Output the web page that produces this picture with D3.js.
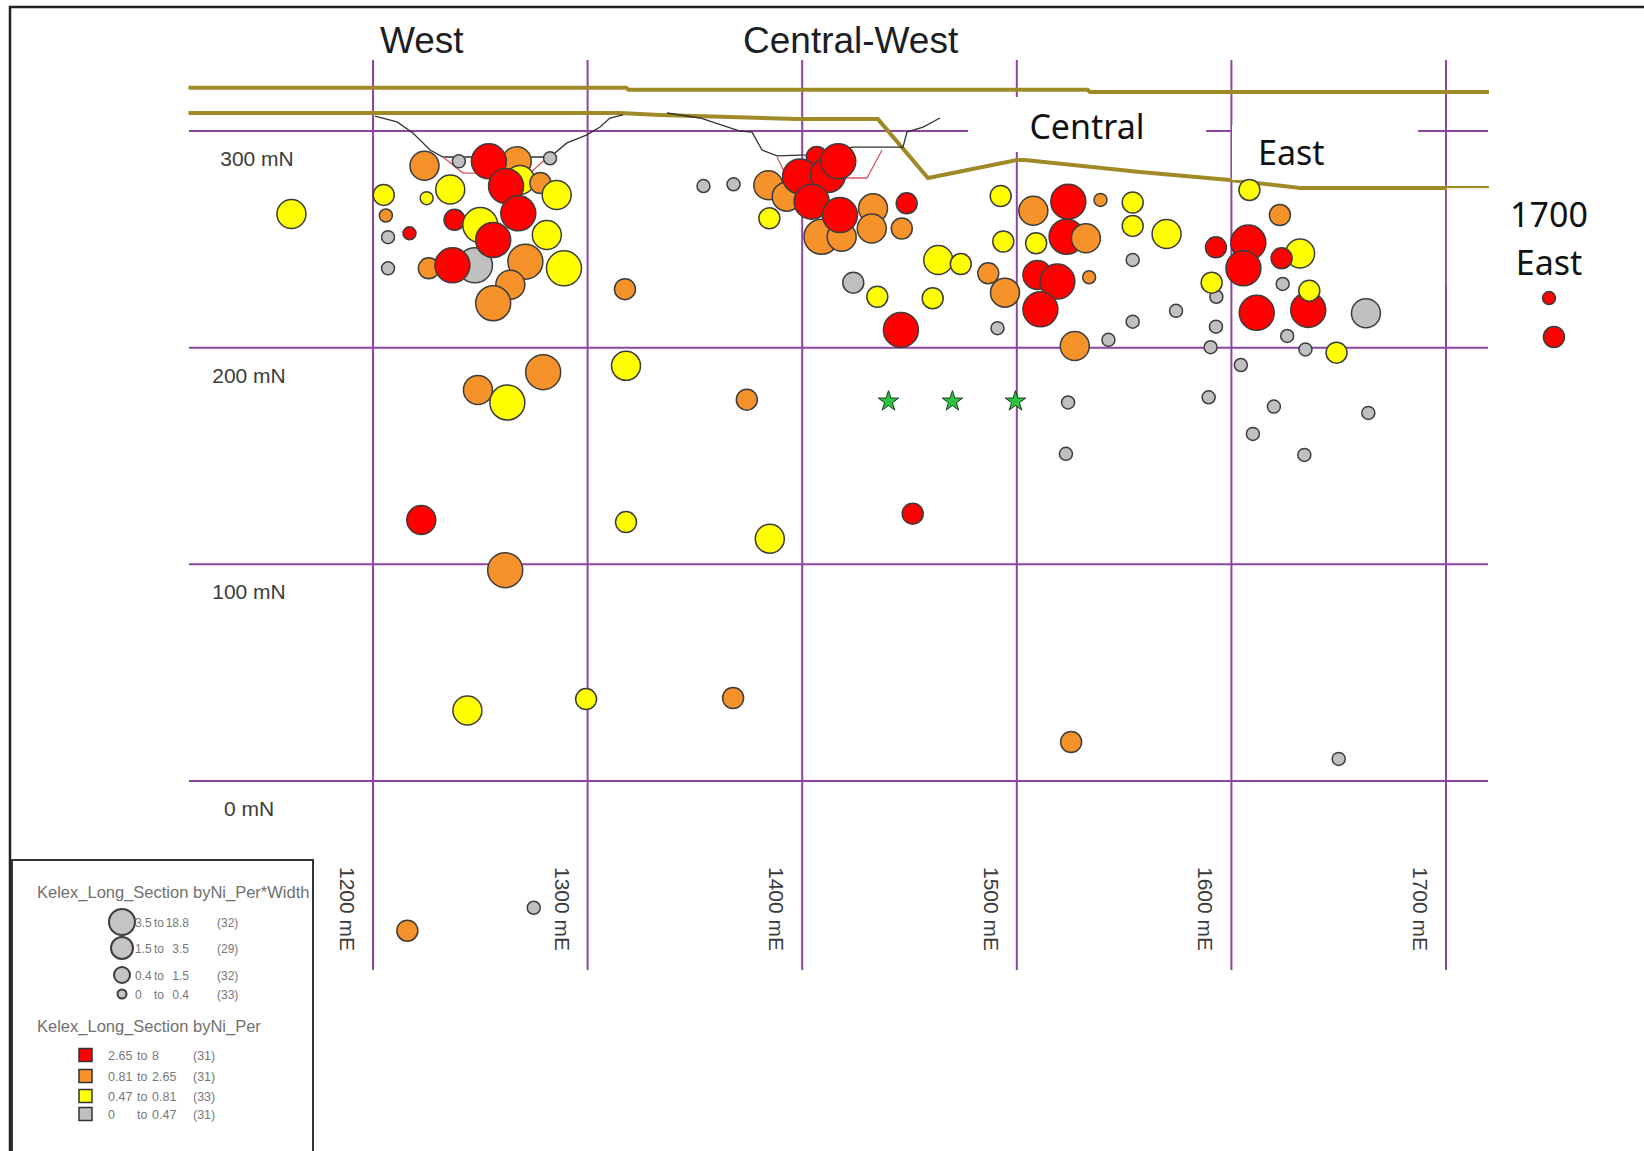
<!DOCTYPE html>
<html>
<head>
<meta charset="utf-8">
<script src="https://cdn.jsdelivr.net/npm/d3@7/dist/d3.min.js"></script>
<style>
body { margin: 0; background: #fff; }
svg { display: block; }
</style>
</head>
<body>
<div id="chart"></div>
<script>
// grid ticks (metres east / metres north)
let xTicks = [1200, 1300, 1400, 1500, 1600, 1700];
let yTicks = [0, 100, 200, 300];

// drill intercepts: [mE, mN, Ni_Per*Width class (0..3), Ni_Per class (0 grey,1 yellow,2 orange,3 red)]
let westHoles = [
  [1162, 261.7, 2, 1], [1224, 284, 2, 2], [1240, 286, 0, 0], [1282.5, 287.4, 0, 0],
  [1267, 286, 2, 2], [1254, 286, 3, 3], [1205, 270.5, 1, 1], [1236, 273, 2, 1],
  [1225, 269, 0, 1], [1268.5, 277.4, 2, 1], [1278, 276, 1, 2], [1262, 274.6, 3, 3],
  [1285.6, 270.5, 2, 1], [1206, 261, 0, 2], [1238, 259, 1, 3], [1250, 256.6, 3, 1],
  [1267.7, 262, 3, 3], [1207, 251, 0, 0], [1217, 252.8, 0, 3], [1281, 252, 2, 1],
  [1207, 236.6, 0, 0], [1247.5, 238, 3, 0], [1256, 249.7, 3, 3], [1226, 236.6, 1, 2],
  [1237, 238, 3, 3], [1271, 239.7, 3, 2], [1289, 236.6, 3, 1], [1264, 229, 2, 2],
  [1256, 220.5, 3, 2], [1317.4, 227, 1, 2]
];
let centralWestHoles = [
  [1354, 274.6, 0, 0], [1368, 275.4, 0, 0], [1384.2, 275, 2, 2], [1392.8, 269.7, 2, 2],
  [1384.7, 259.7, 1, 1], [1409, 251.2, 3, 2], [1418.4, 251.2, 2, 2], [1433, 264.3, 2, 2],
  [1432.4, 255, 2, 2], [1446.4, 255, 1, 2], [1406.8, 288, 1, 3], [1399, 279, 3, 3],
  [1412, 279.7, 3, 3], [1404.4, 267.4, 3, 3], [1417.6, 261.2, 3, 3], [1416.8, 286, 3, 3],
  [1448.7, 266.6, 1, 3], [1423.8, 230, 1, 0], [1435, 223.5, 1, 1], [1463.4, 240.5, 2, 1],
  [1473.9, 238.6, 1, 1], [1460.8, 222.8, 1, 1], [1446, 208.2, 3, 3]
];
let centralHoles = [
  [1486.7, 234.3, 1, 2], [1494.5, 225.4, 2, 2], [1492.5, 270, 1, 1], [1493.7, 249, 1, 1],
  [1491, 209, 0, 0], [1507.7, 263.2, 2, 2], [1524, 267.4, 3, 3], [1539, 268.2, 0, 2],
  [1554, 267, 1, 1], [1554, 256.2, 1, 1], [1569.8, 252.5, 2, 1], [1509, 248.2, 1, 1],
  [1523.2, 251.2, 3, 3], [1532.2, 250.5, 2, 2], [1509.6, 233.5, 2, 3], [1518.9, 230.5, 3, 3],
  [1533.7, 232.5, 0, 2], [1511, 217.7, 3, 3], [1527, 200.8, 2, 2], [1542.7, 203.6, 0, 0],
  [1554, 240.5, 0, 0], [1554, 212, 0, 0], [1574.2, 217, 0, 0]
];
let eastHoles = [
  [1593, 223.5, 0, 0], [1592.8, 246.3, 1, 3], [1590.8, 230, 1, 1], [1592.8, 209.7, 0, 0],
  [1590.3, 200.2, 0, 0], [1604.4, 192, 0, 0], [1608.4, 272.8, 1, 1], [1622.6, 261.2, 1, 2],
  [1607.9, 248.5, 3, 3], [1605.6, 236.6, 3, 3], [1632, 243.5, 2, 1], [1623.4, 241.3, 1, 3],
  [1623.9, 229.4, 0, 0], [1611.8, 216.1, 3, 3], [1635.8, 217.4, 3, 3], [1636.3, 226.3, 1, 1],
  [1626, 205.4, 0, 0], [1634.5, 199.2, 0, 0], [1649, 197.7, 1, 1], [1662.7, 215.9, 2, 0]
];
let deepHoles = [
  [1248.9, 180.5, 2, 2], [1279.3, 188.7, 3, 2], [1262.6, 174.7, 3, 1], [1317.9, 191.6, 2, 1],
  [1374.2, 176, 1, 2], [1222.5, 120.5, 2, 3], [1317.9, 119.5, 1, 1], [1384.9, 111.8, 2, 1],
  [1261.6, 97.3, 3, 2], [1451.5, 123.4, 1, 3], [1244, 32.5, 2, 1], [1299.3, 37.8, 1, 1],
  [1367.8, 38.3, 1, 2], [1525.3, 18, 1, 2], [1650, 10.2, 0, 0], [1216, -69.1, 1, 2],
  [1274.9, -58.5, 0, 0], [1523.9, 174.7, 0, 0], [1522.9, 151, 0, 0], [1589.4, 177.1, 0, 0],
  [1610, 160.2, 0, 0], [1619.8, 172.8, 0, 0], [1634, 150.5, 0, 0], [1663.8, 169.9, 0, 0]
];
let east1700Holes = [[1748, 222.9, 0, 3], [1750.3, 204.9, 1, 3]];
let targetStars = [[1440.2, 175.2], [1470, 175.2], [1499.4, 175.2]];

// surface / pit traces [mE, mN]
let topSurface = [[1114, 320], [1318, 320], [1319, 319], [1533, 319], [1534, 318], [1720, 318]];
let baseSurface = [[1114, 308.3], [1315, 308.3], [1333.7, 307.4], [1397.6, 305.5], [1435.3, 305.5],
  [1458.6, 278.3], [1500.1, 286.6], [1503.8, 286.6], [1557.4, 281.1], [1599.3, 277.4],
  [1632, 273.7], [1720, 273.7]];
let westPit = [[1200.9, 306.9], [1211.2, 304.2], [1218.6, 299.1], [1226.6, 291.2], [1232.6, 288],
  [1282.5, 288], [1290.4, 294.5], [1299.7, 298.2], [1305.8, 301.8], [1310.4, 306], [1316.5, 307.4]];
let westPitFloor = [[1232.6, 288], [1241.9, 280.6], [1273.2, 280.6], [1281.5, 288]];
let cwPit = [[1337, 308.3], [1352.4, 306], [1371, 300], [1376.6, 299.5], [1381.3, 291.2],
  [1388.3, 288.5], [1402, 289], [1423.7, 292.6], [1447, 292.6], [1448.8, 299.5], [1456.3, 301.8], [1464.2, 306]];
let cwPitFloor = [[1388.3, 288], [1393, 278.3], [1430.2, 278.3], [1437.2, 291.2]];

let zoneTitles = ["West", "Central-West", "Central", "East", "1700", "East"];

let sizeLegend = [
  {cls: 3, from: "3.5", upper: "18.8", n: "(32)"},
  {cls: 2, from: "1.5", upper: "3.5", n: "(29)"},
  {cls: 1, from: "0.4", upper: "1.5", n: "(32)"},
  {cls: 0, from: "0", upper: "0.4", n: "(33)"}
];
let gradeLegend = [
  {cls: 3, from: "2.65", upper: "8", n: "(31)"},
  {cls: 2, from: "0.81", upper: "2.65", n: "(31)"},
  {cls: 1, from: "0.47", upper: "0.81", n: "(33)"},
  {cls: 0, from: "0", upper: "0.47", n: "(31)"}
];

let W = 1644, H = 1151;
let svg = d3.select("#chart").append("svg").attr("width", W).attr("height", H);
svg.append("rect").attr("width", W).attr("height", H).attr("fill", "#fff");

let x = d3.scaleLinear().domain([1200, 1700]).range([373, 1446]);
let y = d3.scaleLinear().domain([0, 300]).range([781, 131]);
let radius = d3.scaleOrdinal().domain([0, 1, 2, 3]).range([6.5, 10.5, 14.5, 17.5]);
let legendRadius = d3.scaleOrdinal().domain([0, 1, 2, 3]).range([4.5, 8, 11, 13]);
let gradeColor = d3.scaleOrdinal().domain([0, 1, 2, 3]).range(["#c0c0c0", "#ffff00", "#f5922a", "#ff0000"]);

let purple = "#8e44a4", khaki = "#9f8a27";

// outer frame
svg.append("rect")
  .attr("x", 10).attr("y", 7).attr("width", W + 20).attr("height", H + 20)
  .attr("fill", "none").attr("stroke", "#222").attr("stroke-width", 2.5);

// grid
let grid = svg.append("g");
grid.selectAll(".hline").data(yTicks).enter().append("line")
  .attr("x1", x(1200) - 184).attr("x2", x(1700) + 42)
  .attr("y1", d => y(d)).attr("y2", d => y(d))
  .attr("stroke", purple).attr("stroke-width", 2);
grid.selectAll(".vline").data(xTicks).enter().append("line")
  .attr("x1", d => x(d)).attr("x2", d => x(d))
  .attr("y1", 60).attr("y2", 970)
  .attr("stroke", purple).attr("stroke-width", 2);

// surfaces and pit shells
let line = d3.line().x(d => x(d[0])).y(d => y(d[1]));
svg.append("path").datum(topSurface).attr("d", line)
  .attr("fill", "none").attr("stroke", khaki).attr("stroke-width", 4);
svg.append("path").datum(baseSurface).attr("d", line)
  .attr("fill", "none").attr("stroke", khaki).attr("stroke-width", 4);
[westPit, cwPit].forEach(p => {
  svg.append("path").datum(p).attr("d", line)
    .attr("fill", "none").attr("stroke", "#333").attr("stroke-width", 1.3);
});
[westPitFloor, cwPitFloor].forEach(p => {
  svg.append("path").datum(p).attr("d", line)
    .attr("fill", "none").attr("stroke", "#d9585f").attr("stroke-width", 1.3);
});

// white label boxes
let boxes = [
  [1477.3, 1588.2, 315.7, 290.3, 1],
  [1600.3, 1687, 302.8, 277.4, 1],
  [1700.4, 1771.8, 273.7, 228.9, 0.88]
];
svg.selectAll(".box").data(boxes).enter().append("rect")
  .attr("x", d => x(d[0])).attr("width", d => x(d[1]) - x(d[0]))
  .attr("y", d => y(d[2])).attr("height", d => y(d[3]) - y(d[2]))
  .attr("fill", "#fff").attr("fill-opacity", d => d[4]);

// zone titles
let arialTitles = svg.append("g").attr("font-family", "Liberation Sans, Arial, sans-serif")
  .attr("font-size", 37).attr("fill", "#1d1d24");
arialTitles.append("text").attr("x", 380).attr("y", 53).text(zoneTitles[0]);
arialTitles.append("text").attr("x", 743).attr("y", 53).text(zoneTitles[1]);
let calTitles = svg.append("g").attr("font-family", "Noto Sans, sans-serif")
  .attr("font-size", 34).attr("fill", "#111");
calTitles.append("text").attr("x", x(1532.7)).attr("y", 139).attr("text-anchor", "middle").text(zoneTitles[2]);
calTitles.append("text").attr("x", x(1612.4)).attr("y", 165).text(zoneTitles[3]);
calTitles.append("text").attr("x", x(1748)).attr("y", 227).attr("text-anchor", "middle").text(zoneTitles[4]);
calTitles.append("text").attr("x", x(1748)).attr("y", 275).attr("text-anchor", "middle").text(zoneTitles[5]);

// axis labels
let axisText = svg.append("g").attr("font-family", "Liberation Sans, Arial, sans-serif")
  .attr("font-size", 21).attr("fill", "#3c3c3c");
axisText.selectAll(".ylab").data(yTicks).enter().append("text")
  .attr("x", d => d === 300 ? 257 : 249).attr("y", d => y(d) + 35).attr("text-anchor", "middle")
  .text(d => d + " mN");
axisText.selectAll(".xlab").data(xTicks).enter().append("text")
  .attr("transform", d => "translate(" + (x(d) - 33) + ",867) rotate(90)")
  .text(d => d + " mE");

// intercepts
let allHoles = [].concat(westHoles, centralWestHoles, centralHoles, eastHoles, deepHoles, east1700Holes);
svg.append("g").selectAll("circle").data(allHoles).enter().append("circle")
  .attr("cx", d => x(d[0])).attr("cy", d => y(d[1]))
  .attr("r", d => radius(d[2]))
  .attr("fill", d => gradeColor(d[3]))
  .attr("stroke", "#3d3d3d").attr("stroke-width", 1.5);

svg.append("g").selectAll("path").data(targetStars).enter().append("path")
  .attr("d", d3.symbol().type(d3.symbolStar).size(130))
  .attr("transform", d => "translate(" + x(d[0]) + "," + y(d[1]) + ")")
  .attr("fill", "#2dc23f").attr("stroke", "#1d3d1d").attr("stroke-width", 1);

// legend
let lg = svg.append("g");
lg.append("clipPath").attr("id", "lgclip").append("rect")
  .attr("x", 12).attr("y", 860).attr("width", 301).attr("height", 300);
lg.append("rect").attr("x", 12).attr("y", 860).attr("width", 301).attr("height", 300)
  .attr("fill", "#fff").attr("stroke", "#333").attr("stroke-width", 2);
let lgText = lg.append("g").attr("clip-path", "url(#lgclip)")
  .attr("font-family", "Liberation Sans, Arial, sans-serif").attr("fill", "#707070");
lgText.append("text").attr("x", 37).attr("y", 898).attr("font-size", 16.5)
  .text("Kelex_Long_Section byNi_Per*Width");
lgText.append("text").attr("x", 37).attr("y", 1032).attr("font-size", 16.5)
  .text("Kelex_Long_Section byNi_Per");

let sizeRowY = [922, 948, 975, 994];
let sRows = lg.selectAll(".srow").data(sizeLegend).enter().append("g")
  .attr("transform", (d, i) => "translate(0," + sizeRowY[i] + ")");
sRows.append("circle").attr("cx", 122).attr("r", d => legendRadius(d.cls))
  .attr("fill", "#c4c4c4").attr("stroke", "#3d3d3d").attr("stroke-width", 2);
let sTxt = sRows.append("g").attr("font-family", "Liberation Sans, Arial, sans-serif")
  .attr("font-size", 12).attr("fill", "#777");
sTxt.append("text").attr("x", 135).attr("y", 5).text(d => d.from);
sTxt.append("text").attr("x", 154).attr("y", 5).text("to");
sTxt.append("text").attr("x", 189).attr("y", 5).attr("text-anchor", "end").text(d => d.upper);
sTxt.append("text").attr("x", 217).attr("y", 5).text(d => d.n);

let gradeRowY = [1055, 1076, 1096, 1114];
let gRows = lg.selectAll(".grow").data(gradeLegend).enter().append("g")
  .attr("transform", (d, i) => "translate(0," + gradeRowY[i] + ")");
gRows.append("rect").attr("x", 79).attr("y", -6.5).attr("width", 13).attr("height", 13)
  .attr("fill", d => gradeColor(d.cls)).attr("stroke", "#333").attr("stroke-width", 1.5);
let gTxt = gRows.append("g").attr("font-family", "Liberation Sans, Arial, sans-serif")
  .attr("font-size", 12.5).attr("fill", "#777");
gTxt.append("text").attr("x", 108).attr("y", 5).text(d => d.from);
gTxt.append("text").attr("x", 137).attr("y", 5).text("to");
gTxt.append("text").attr("x", 152).attr("y", 5).text(d => d.upper);
gTxt.append("text").attr("x", 193).attr("y", 5).text(d => d.n);
</script>
</body>
</html>
